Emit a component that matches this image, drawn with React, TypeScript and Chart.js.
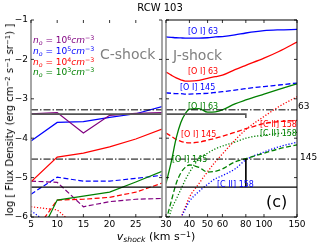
import React, { useEffect, useRef } from 'react';
import { Chart, registerables } from 'chart.js';
Chart.register(...registerables);

// ---------- data ----------
// C-shock panel (linear velocity axis)
const cShockVel = [5, 10, 15, 20, 25, 30];
const cOI63_n6 = [-3.38, -3.35, -3.87, -3.42, -3.37, -3.35];
const cOI63_n5 = [-4.07, -3.6, -3.58, -3.47, -3.38, -3.2];
const cOI63_n4 = [-5.11, -4.48, -4.38, -4.22, -4.02, -3.77];
const cOI63_n3 = [-6.9, -5.57, -5.47, -5.37, -5.11, -4.84];
const cOI145_n6 = [-5.09, -5.12, -5.74, -5.61, -5.55, -5.53];
const cOI145_n5 = [-5.42, -4.99, -5.09, -5.09, -5.02, -4.94];
const cOI145_n4 = [-6.5, -5.57, -5.55, -5.5, -5.37, -5.14];
const cCII158_n5 = [-5.84, -6.33, -6.6, -6.8, -6.9, -7.0];
const cCII158_n4 = [-5.74, -5.82, -6.4, -6.6, -6.7, -6.8];

// J-shock panel (log velocity axis)
const jShockVel = [30, 32, 34, 36, 38, 40, 45, 50, 55, 60, 70, 80, 100, 120, 150];
const jOI63_n5 = [-1.43, -1.44, -1.45, -1.455, -1.46, -1.46, -1.46, -1.45, -1.43, -1.42, -1.38, -1.33, -1.27, -1.25, -1.24];
const jOI63_n4 = [-2.32, -2.4, -2.47, -2.52, -2.55, -2.55, -2.53, -2.48, -2.44, -2.4, -2.26, -2.15, -1.97, -1.8, -1.56];
const jOI63_n3 = [-5.15, -4.6, -4.0, -3.6, -3.38, -3.26, -3.25, -3.34, -3.33, -3.28, -3.13, -3.03, -2.88, -2.76, -2.62];
const jOI145_n5 = [-2.85, -2.86, -2.87, -2.87, -2.88, -2.88, -2.87, -2.86, -2.84, -2.82, -2.78, -2.74, -2.69, -2.65, -2.6];
const jOI145_n4 = [-3.87, -3.95, -4.03, -4.08, -4.11, -4.12, -4.1, -4.05, -4.0, -3.95, -3.85, -3.76, -3.63, -3.58, -3.55];
const jOI145_n3 = [-6.1, -5.6, -5.15, -4.88, -4.74, -4.68, -4.74, -4.86, -4.84, -4.78, -4.6, -4.52, -4.38, -4.27, -4.17];
const jCII158_n5 = [-7.5, -7.2, -6.5, -6.05, -5.8, -5.6, -5.35, -5.17, -5.03, -4.95, -4.78, -4.55, -4.35, -4.22, -4.1];
const jCII158_n4 = [-7.5, -7.2, -6.6, -6.05, -5.75, -5.5, -5.15, -4.85, -4.6, -4.4, -4.05, -3.78, -3.45, -3.2, -2.95];
const jCII158_n3 = [-6.3, -5.82, -5.55, -5.3, -5.06, -4.87, -4.52, -4.38, -4.27, -4.2, -4.1, -4.0, -3.92, -3.88, -3.85];

// observed values
const obsOI63 = -3.28;
const obsOI145 = -4.53;
const obsCII158 = -5.24;
const obsRef = -3.39;
const bestVel = 80;

// axes
const yTicks = [-6, -5, -4, -3, -2, -1];
const cTicks = [5, 10, 15, 20, 25];
const jTicks = [30, 40, 50, 60, 80, 100, 150];

const PURPLE = '#800080';
const BLUE = '#0000ff';
const RED = '#ff0000';
const GREEN = '#008000';
const FONT = '"DejaVu Sans", "Liberation Sans", Arial, sans-serif';

const SOLID: number[] = [];
const DASH = [5, 2.5];
const DOT = [1.2, 1.8];
const DASHDOT = [7, 2, 1.5, 2];

function ds(xs: number[], ys: number[], color: string, dash: number[], width = 1.2, smooth = false) {
  return {
    data: xs.map((x, i) => ({ x, y: ys[i] })),
    borderColor: color,
    borderDash: dash,
    borderWidth: width,
    pointRadius: 0,
    fill: false,
    tension: smooth ? 0.4 : 0,
    cubicInterpolationMode: smooth ? 'monotone' : 'default',
  };
}

const framePlugin = {
  id: 'frame',
  afterDatasetsDraw(chart: any, _args: any, opts: any) {
    const { ctx, chartArea: a, scales } = chart;
    ctx.save();
    const seg = (x1: number, y1: number, x2: number, y2: number, color: string, w: number) => {
      ctx.beginPath();
      ctx.strokeStyle = color;
      ctx.lineWidth = w;
      ctx.setLineDash([]);
      ctx.moveTo(x1, y1);
      ctx.lineTo(x2, y2);
      ctx.stroke();
    };
    const s = opts.sides || {};
    if (s.left) seg(a.left, a.top, a.left, a.bottom, s.left[0], s.left[1]);
    if (s.right) seg(a.right, a.top, a.right, a.bottom, s.right[0], s.right[1]);
    if (s.top) seg(a.left, a.top, a.right, a.top, s.top[0], s.top[1]);
    if (s.bottom) seg(a.left, a.bottom, a.right, a.bottom, s.bottom[0], s.bottom[1]);
    // inward ticks
    for (const v of yTicks) {
      const y = scales.y.getPixelForValue(v);
      seg(a.left, y, a.left + 3, y, '#000', 0.8);
      seg(a.right - 3, y, a.right, y, '#000', 0.8);
    }
    for (const v of opts.xTicks || []) {
      const x = scales.x.getPixelForValue(v);
      seg(x, a.bottom, x, a.bottom - 3, '#000', 0.8);
      seg(x, a.top, x, a.top + 3, '#000', 0.8);
    }
    ctx.restore();
  },
};

const tickFont = { family: FONT, size: 9 };
const fmt = (v: number) => (v < 0 ? '\u2212' + Math.abs(v) : String(v));

function Txt(props: any) {
  const { x, y, c = '#000', s = 8, center = false, style, children } = props;
  return (
    <div
      style={{
        position: 'absolute',
        left: x,
        top: y,
        transform: center ? 'translate(-50%,-50%)' : 'translate(0,-50%)',
        color: c,
        fontSize: s,
        lineHeight: 1,
        whiteSpace: 'nowrap',
        fontFamily: FONT,
        ...style,
      }}
    >
      {children}
    </div>
  );
}

const supS: any = { fontSize: '70%', position: 'relative', top: '-0.45em' };
const subS: any = { fontSize: '70%', position: 'relative', top: '0.3em' };

function Dens({ exp }: { exp: string }) {
  return (
    <span>
      <i>n</i>
      <span style={subS}><i>o</i></span> = 10<span style={supS}>{exp}</span>
      <i>cm</i>
      <span style={supS}>{'\u22123'}</span>
    </span>
  );
}

export default function App() {
  const leftRef = useRef<HTMLCanvasElement>(null);
  const rightRef = useRef<HTMLCanvasElement>(null);

  useEffect(() => {
    const cx0 = cShockVel[0];
    const cx1 = cShockVel[cShockVel.length - 1];
    const jx0 = jShockVel[0];
    const jx1 = jShockVel[jShockVel.length - 1];

    const left = new Chart(leftRef.current as HTMLCanvasElement, {
      type: 'line',
      data: {
        datasets: [
          ds([cx0, cx1], [obsRef, obsRef], '#555555', SOLID, 1.6),
          ds([cx0, cx1], [obsOI63, obsOI63], '#000', DASHDOT, 1),
          ds([cx0, cx1], [obsOI145, obsOI145], '#000', DASHDOT, 1),
          ds([cx0, cx1], [obsCII158, obsCII158], '#000', SOLID, 1.2),
          ds(cShockVel, cOI63_n6, PURPLE, SOLID),
          ds(cShockVel, cOI63_n5, BLUE, SOLID),
          ds(cShockVel, cOI63_n4, RED, SOLID),
          ds(cShockVel, cOI63_n3, GREEN, SOLID),
          ds(cShockVel, cOI145_n6, PURPLE, DASH),
          ds(cShockVel, cOI145_n5, BLUE, DASH),
          ds(cShockVel, cOI145_n4, RED, DASH),
          ds(cShockVel, cCII158_n5, BLUE, DOT),
          ds(cShockVel, cCII158_n4, RED, DOT),
        ] as any,
      },
      options: {
        animation: false,
        responsive: false,
        maintainAspectRatio: false,
        layout: { padding: { top: 20, right: 2, left: 0, bottom: 0 } },
        plugins: {
          legend: { display: false },
          tooltip: { enabled: false },
          frame: { sides: { left: ['#888', 1.5], right: ['#888', 1.5], bottom: ['#000', 1] }, xTicks: cTicks },
        } as any,
        scales: {
          x: {
            type: 'linear',
            min: cx0,
            max: cx1,
            grid: { display: false, drawTicks: false },
            border: { display: false },
            afterBuildTicks: (s: any) => { s.ticks = cTicks.map((v) => ({ value: v })); },
            ticks: { font: tickFont, color: '#000', padding: 2, maxRotation: 0, callback: (v: any) => fmt(Number(v)) },
            afterFit: (s: any) => { s.height = 28; s.paddingLeft = 0; s.paddingRight = 0; },
          },
          y: {
            type: 'linear',
            min: -6,
            max: -1,
            grid: { display: false, drawTicks: false },
            border: { display: false },
            afterBuildTicks: (s: any) => { s.ticks = yTicks.map((v) => ({ value: v })); },
            ticks: { font: tickFont, color: '#000', padding: 3, callback: (v: any) => fmt(Number(v)) },
            afterFit: (s: any) => { s.width = 31; s.paddingTop = 0; s.paddingBottom = 0; },
          },
        } as any,
      },
      plugins: [framePlugin as any],
    });

    const right = new Chart(rightRef.current as HTMLCanvasElement, {
      type: 'line',
      data: {
        datasets: [
          ds([jx0, bestVel, bestVel], [obsRef, obsRef, obsRef - 0.1], '#555555', SOLID, 1.6),
          ds([jx0, jx1], [obsOI63, obsOI63], '#000', DASHDOT, 1),
          ds([jx0, jx1], [obsOI145, obsOI145], '#000', DASHDOT, 1),
          ds([jx0, jx1], [obsCII158, obsCII158], '#000', SOLID, 1.2),
          ds([bestVel, bestVel], [obsOI145, obsCII158], '#000', SOLID, 1),
          ds(jShockVel, jOI63_n5, BLUE, SOLID, 1.3, true),
          ds(jShockVel, jOI63_n4, RED, SOLID, 1.3, true),
          ds(jShockVel, jOI63_n3, GREEN, SOLID, 1.3, true),
          ds(jShockVel, jOI145_n5, BLUE, DASH, 1.3, true),
          ds(jShockVel, jOI145_n4, RED, DASH, 1.3, true),
          ds(jShockVel, jOI145_n3, GREEN, DASH, 1.3, true),
          ds(jShockVel, jCII158_n5, BLUE, DOT, 1.3, true),
          ds(jShockVel, jCII158_n4, RED, DOT, 1.3, true),
          ds(jShockVel, jCII158_n3, GREEN, DOT, 1.3, true),
        ] as any,
      },
      options: {
        animation: false,
        responsive: false,
        maintainAspectRatio: false,
        layout: { padding: { top: 20, right: 22, left: 16, bottom: 0 } },
        plugins: {
          legend: { display: false },
          tooltip: { enabled: false },
          frame: { sides: { left: ['#888', 1.5], right: ['#000', 1], top: ['#000', 1], bottom: ['#000', 1] }, xTicks: jTicks },
        } as any,
        scales: {
          x: {
            type: 'logarithmic',
            min: jx0,
            max: jx1,
            grid: { display: false, drawTicks: false },
            border: { display: false },
            afterBuildTicks: (s: any) => { s.ticks = jTicks.map((v) => ({ value: v })); },
            ticks: { font: tickFont, color: '#000', padding: 2, maxRotation: 0, autoSkip: false, callback: (v: any) => String(v) },
            afterFit: (s: any) => { s.height = 28; s.paddingLeft = 0; s.paddingRight = 0; },
          },
          y: {
            type: 'linear',
            min: -6,
            max: -1,
            display: false,
          },
        } as any,
      },
      plugins: [framePlugin as any],
    });

    return () => {
      left.destroy();
      right.destroy();
    };
  }, []);

  return (
    <div style={{ position: 'fixed', left: 0, top: 0, width: 319, height: 245, background: '#fff', overflow: 'hidden' }}>
      <canvas ref={leftRef} width={164} height={245} style={{ position: 'absolute', left: 0, top: 0 }} />
      <canvas ref={rightRef} width={169} height={245} style={{ position: 'absolute', left: 150, top: 0 }} />

      <Txt x={160} y={8} s={10} center>RCW 103</Txt>
      <Txt x={10} y={120} s={10} center style={{ transform: 'translate(-50%,-50%) rotate(-90deg)' }}>
        log [ Flux Density (erg cm<span style={supS}>{'\u22122'}</span> s<span style={supS}>{'\u22121'}</span> sr
        <span style={supS}>{'\u22121'}</span>) ]
      </Txt>
      <Txt x={156} y={236} s={11} center>
        <i>v</i>
        <span style={subS}><i>shock</i></span> (km s<span style={supS}>{'\u22121'}</span>)
      </Txt>

      <Txt x={33} y={40} s={9} c={PURPLE}><Dens exp="6" /></Txt>
      <Txt x={33} y={51} s={9} c={BLUE}><Dens exp="5" /></Txt>
      <Txt x={33} y={62} s={9} c={RED}><Dens exp="4" /></Txt>
      <Txt x={33} y={72} s={9} c={GREEN}><Dens exp="3" /></Txt>

      <Txt x={100} y={54} s={14} c="#808080">C-shock</Txt>
      <Txt x={173} y={55} s={14} c="#808080">J-shock</Txt>

      <Txt x={188} y={32} c={BLUE}>[O I] 63</Txt>
      <Txt x={188} y={72} c={RED}>[O I] 63</Txt>
      <Txt x={180} y={88} c={BLUE}>[O I] 145</Txt>
      <Txt x={188} y={107} c={GREEN}>[O I] 63</Txt>
      <Txt x={181} y={135} c={RED}>[O I] 145</Txt>
      <Txt x={260} y={125} c={RED}>[C II] 158</Txt>
      <Txt x={260} y={134} c={GREEN}>[C II] 158</Txt>
      <Txt x={172} y={160} c={GREEN}>[O I] 145</Txt>
      <Txt x={217} y={185} c={BLUE}>[C II] 158</Txt>

      <Txt x={298} y={106} s={9}>63</Txt>
      <Txt x={300} y={157} s={9}>145</Txt>
      <Txt x={266} y={202} s={16}>(c)</Txt>
    </div>
  );
}
